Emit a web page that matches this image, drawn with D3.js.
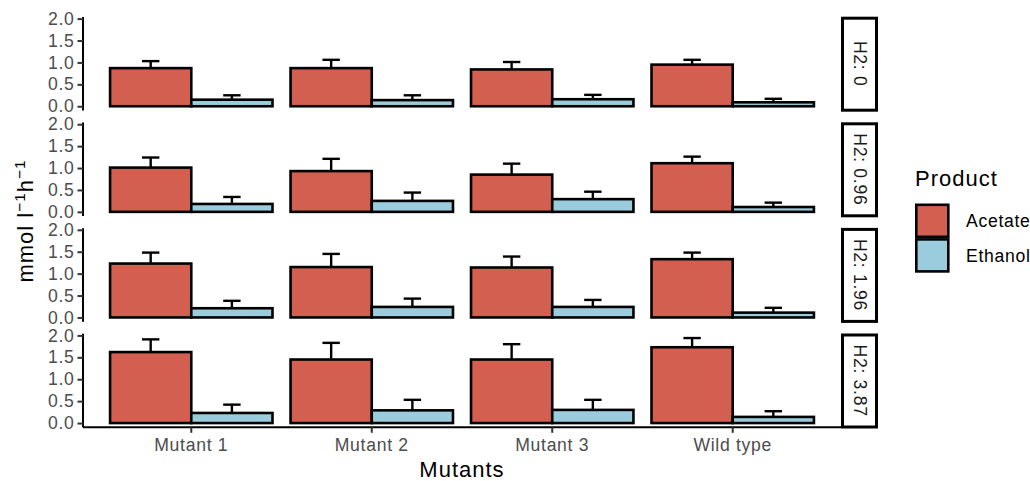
<!DOCTYPE html>
<html>
<head>
<meta charset="utf-8">
<script src="https://cdn.jsdelivr.net/npm/d3@7"></script>
<style>
  body { margin: 0; background: #fff; }
  svg text { font-family: "Liberation Sans", Arial, Helvetica, sans-serif; }
</style>
</head>
<body>
<svg id="chart" width="1030" height="481"></svg>
<script>
// Mutant strains on the x axis, one facet row per H2 level
const mutants = ["Mutant 1", "Mutant 2", "Mutant 3", "Wild type"];
const h2Levels = ["0", "0.96", "1.96", "3.87"];
const products = ["Acetate", "Ethanol"];
const productColors = ["#D25F50", "#9BCCDD"];
const yTicks = [0, 0.5, 1.0, 1.5, 2.0];

// Mean production (mmol l-1 h-1), rows follow h2Levels, columns follow mutants
const acetateMean = [
  [0.87, 0.87, 0.84, 0.95],
  [1.01, 0.93, 0.85, 1.11],
  [1.23, 1.15, 1.14, 1.33],
  [1.62, 1.45, 1.45, 1.73]
];
const acetateSE = [
  [0.16, 0.19, 0.17, 0.11],
  [0.23, 0.28, 0.25, 0.15],
  [0.25, 0.30, 0.25, 0.15],
  [0.29, 0.38, 0.35, 0.21]
];
const ethanolMean = [
  [0.15, 0.14, 0.16, 0.09],
  [0.18, 0.25, 0.29, 0.11],
  [0.21, 0.24, 0.24, 0.11],
  [0.23, 0.29, 0.30, 0.14]
];
const ethanolSE = [
  [0.10, 0.11, 0.10, 0.08],
  [0.16, 0.19, 0.17, 0.10],
  [0.17, 0.19, 0.16, 0.11],
  [0.19, 0.24, 0.23, 0.13]
];

const svg = d3.select("#chart");

const panelLeft = 83, panelRight = 841;
const panelTop0 = 17, panelHeight = 93.5, panelStep = 105.6;
const stripWidth = 37;
const smallFont = "17.6px", bigFont = "22px";
const smallSpacing = "0.7px", bigSpacing = "1px";

// long-form rows built from the arrays above
const rows = [];
h2Levels.forEach((h, i) => {
  mutants.forEach((m, j) => {
    rows.push({ h2: i, mutant: m, product: "Acetate", mean: acetateMean[i][j], se: acetateSE[i][j] });
    rows.push({ h2: i, mutant: m, product: "Ethanol", mean: ethanolMean[i][j], se: ethanolSE[i][j] });
  });
});

const maxTop = d3.max(rows, d => d.mean + d.se);
const yPad = maxTop * 0.05;

const x = d3.scaleBand().domain(mutants).range([panelLeft, panelRight])
  .paddingInner(0.1).paddingOuter(0.15);
const xProd = d3.scaleBand().domain(products).range([0, x.bandwidth()]).padding(0);
const color = d3.scaleOrdinal().domain(products).range(productColors);

h2Levels.forEach((h, i) => {
  const top = panelTop0 + i * panelStep;
  const bottom = top + panelHeight;
  const y = d3.scaleLinear().domain([-yPad, maxTop + yPad]).range([bottom, top]);
  const g = svg.append("g");
  const data = rows.filter(r => r.h2 === i);

  // upper error bars (drawn first so the bars cover their base)
  const eb = g.append("g").selectAll("g").data(data).join("g");
  const cx = d => x(d.mutant) + xProd(d.product) + xProd.bandwidth() / 2;
  const capHalf = 8.7;
  eb.append("line")
    .attr("x1", cx).attr("x2", cx)
    .attr("y1", d => y(d.mean)).attr("y2", d => y(d.mean + d.se))
    .attr("stroke", "#000").attr("stroke-width", 2.4);
  eb.append("line")
    .attr("x1", d => cx(d) - capHalf).attr("x2", d => cx(d) + capHalf)
    .attr("y1", d => y(d.mean + d.se)).attr("y2", d => y(d.mean + d.se))
    .attr("stroke", "#000").attr("stroke-width", 2.4);

  // bars
  g.append("g").selectAll("rect").data(data).join("rect")
    .attr("x", d => x(d.mutant) + xProd(d.product))
    .attr("width", xProd.bandwidth())
    .attr("y", d => y(d.mean))
    .attr("height", d => y(0) - y(d.mean))
    .attr("fill", d => color(d.product))
    .attr("stroke", "#000").attr("stroke-width", 2.6);

  // y axis
  const yAxis = g.append("g").attr("transform", `translate(${panelLeft},0)`)
    .call(d3.axisLeft(y).tickValues(yTicks).tickFormat(d3.format(".1f")).tickSize(5.5).tickPadding(3));
  yAxis.select(".domain").attr("d", `M0,${bottom}V${top}`).attr("stroke", "#000").attr("stroke-width", 2);
  yAxis.selectAll(".tick line").attr("stroke", "#333").attr("stroke-width", 2);
  yAxis.selectAll(".tick text").attr("fill", "#4D4D4D")
    .style("font-size", smallFont).style("letter-spacing", smallSpacing);

  // facet strip on the right
  svg.append("rect")
    .attr("x", panelRight + 1.5).attr("y", top + 1.2)
    .attr("width", stripWidth - 3).attr("height", panelHeight - 1.5)
    .attr("fill", "#fff").attr("stroke", "#000").attr("stroke-width", 3);
  svg.append("text")
    .attr("transform", `translate(${panelRight + stripWidth / 2 + 1},${top + panelHeight / 2}) rotate(90)`)
    .attr("text-anchor", "middle").attr("dy", "0.35em")
    .attr("fill", "#1A1A1A").style("font-size", smallFont).style("letter-spacing", smallSpacing)
    .text(`H2: ${h}`);

  // x axis only under the last row
  if (i === h2Levels.length - 1) {
    const xAxis = svg.append("g").attr("transform", `translate(0,${bottom})`)
      .call(d3.axisBottom(x).tickSize(5.5).tickPadding(6));
    xAxis.select(".domain").attr("d", `M${panelLeft},0H${panelRight}`).attr("stroke", "#000").attr("stroke-width", 2);
    xAxis.selectAll(".tick line").attr("stroke", "#333").attr("stroke-width", 2);
    xAxis.selectAll(".tick text").attr("fill", "#4D4D4D")
      .style("font-size", smallFont).style("letter-spacing", smallSpacing);
  }
});

// axis titles
svg.append("text")
  .attr("x", (panelLeft + panelRight) / 2).attr("y", 477)
  .attr("text-anchor", "middle").style("font-size", bigFont).style("letter-spacing", bigSpacing)
  .attr("fill", "#000")
  .text("Mutants");

const yTitle = svg.append("text")
  .attr("transform", "translate(33,221) rotate(-90)")
  .attr("text-anchor", "middle").style("font-size", bigFont).style("letter-spacing", bigSpacing)
  .attr("fill", "#000");
yTitle.append("tspan").text("mmol l");
yTitle.append("tspan").attr("dy", -8).style("font-size", "15.4px").text("\u22121");
yTitle.append("tspan").attr("dy", 8).text("h");
yTitle.append("tspan").attr("dy", -8).style("font-size", "15.4px").text("\u22121");

// legend
const legend = svg.append("g").attr("transform", "translate(915,0)");
legend.append("text").attr("x", 0).attr("y", 186)
  .style("font-size", bigFont).style("letter-spacing", bigSpacing)
  .attr("fill", "#000").text("Product");
products.forEach((p, k) => {
  const ky = 203.5 + k * 34.6;
  legend.append("rect")
    .attr("x", 1.3).attr("y", ky + 1.3).attr("width", 32).attr("height", 32)
    .attr("fill", color(p)).attr("stroke", "#000").attr("stroke-width", 2.6);
  legend.append("text")
    .attr("x", 51).attr("y", ky + 17.3).attr("dy", "0.35em")
    .style("font-size", smallFont).style("letter-spacing", smallSpacing)
    .attr("fill", "#000").text(p);
});
</script>
</body>
</html>
